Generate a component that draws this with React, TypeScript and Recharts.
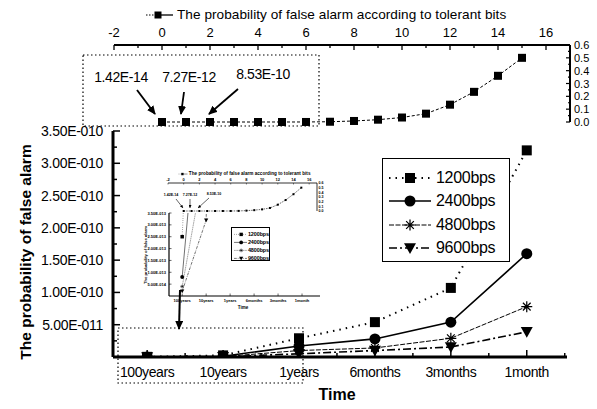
import React from "react";
import { ComposedChart, LineChart, Line, XAxis, YAxis, Legend } from "recharts";

// time span categories (x axis of the main chart)
const periods = ["100years", "10years", "1years", "6months", "3months", "1month"];

// probability of false alarm per bit rate
const bps1200 = [2.5e-13, 2.5e-12, 2.9e-11, 5.4e-11, 1.07e-10, 3.2e-10];
const bps2400 = [8e-14, 1.2e-12, 1.7e-11, 2.8e-11, 5.4e-11, 1.6e-10];
const bps4800 = [4e-14, 6e-13, 1.0e-11, 1.4e-11, 2.9e-11, 7.8e-11];
const bps9600 = [2e-14, 3.2e-13, 5e-12, 1.0e-11, 1.55e-11, 3.9e-11];
const seriesNames = ["1200bps", "2400bps", "4800bps", "9600bps"];

// probability of false alarm according to tolerant bits (top chart)
const tolerantBits = [0, 1, 2, 3, 4, 5, 6, 7, 8, 9, 10, 11, 12, 13, 14, 15];
const falseAlarmByBits = [
  1.42e-14, 7.27e-12, 8.53e-10, 3e-8, 8e-7, 1.5e-5, 2e-4, 2e-3, 8e-3, 0.018, 0.035, 0.065, 0.135,
  0.235, 0.36, 0.5,
];
const bitNotes = ["1.42E-14", "7.27E-12", "8.53E-10"];

const mainXTicks = [1, 1.5, 2, 2.5, 3, 3.5, 4, 4.5, 5, 5.5, 6, 6.5];
const mainYTicks = Array.from({ length: 14 }, (_, i) => (i + 1) * 0.25e-10);
const insetYTicks = Array.from({ length: 7 }, (_, i) => (i + 1) * 0.5e-13);
const topXTicks = Array.from({ length: 19 }, (_, i) => i - 2);
const topYTicks = Array.from({ length: 13 }, (_, i) => i * 0.05);

const seriesKeys = ["b1200", "b2400", "b4800", "b9600"];
const mainRows = periods.map((period, i) => ({
  x: i + 1,
  period,
  b1200: bps1200[i],
  b2400: bps2400[i],
  b4800: bps4800[i],
  b9600: bps9600[i],
}));
const bitRows = tolerantBits.map((bit, i) => ({ bit, p: falseAlarmByBits[i] }));

const FONT = '"Liberation Sans", Arial, sans-serif';

const seriesStyle: Record<string, { dash?: string; width: number; marker: string; size: number }> = {
  b1200: { dash: "1.5 5", width: 2, marker: "square", size: 10 },
  b2400: { width: 1.6, marker: "circle", size: 11 },
  b4800: { dash: "5 1.5", width: 1, marker: "star", size: 11 },
  b9600: { dash: "8 3 2 3", width: 1.6, marker: "tri", size: 12 },
};

const sciLabel = (v: number) => {
  const [m, e] = v.toExponential(2).split("e");
  const n = Number(e);
  return `${m}E${n < 0 ? "-" : "+"}${String(Math.abs(n)).padStart(3, "0")}`;
};

const drawMarker = (kind: string, cx: number, cy: number, s: number, key?: any) => {
  switch (kind) {
    case "square":
      return <rect key={key} x={cx - s / 2} y={cy - s / 2} width={s} height={s} fill="#000" />;
    case "circle":
      return <circle key={key} cx={cx} cy={cy} r={s / 2} fill="#000" />;
    case "star": {
      const d = s * 0.35;
      return (
        <path
          key={key}
          d={`M${cx - s / 2},${cy}H${cx + s / 2}M${cx},${cy - s / 2}V${cy + s / 2}M${cx - d},${cy - d}L${cx + d},${cy + d}M${cx - d},${cy + d}L${cx + d},${cy - d}`}
          stroke="#000"
          strokeWidth={Math.max(0.5, s / 9)}
          fill="none"
        />
      );
    }
    default:
      return (
        <path
          key={key}
          d={`M${cx - s / 2},${cy - s * 0.4}L${cx + s / 2},${cy - s * 0.4}L${cx},${cy + s * 0.5}Z`}
          fill="#000"
        />
      );
  }
};

const dotFor = (kind: string, size: number) => (props: any) => {
  const { cx, cy, index } = props;
  if (cx == null || cy == null) return <g key={index} />;
  return drawMarker(kind, cx, cy, size, index);
};

// ---------- ticks ----------
const MainXTick = (p: any) => {
  const { x, y, payload } = p;
  const v = payload.value;
  const major = Number.isInteger(v);
  return (
    <g>
      <line x1={x} x2={x} y1={y} y2={y - (major ? 7 : 4)} stroke="#000" strokeWidth={1.5} />
      {major && (
        <text x={x} y={y + 20} textAnchor="middle" fontSize={14} letterSpacing={-0.4} fontFamily={FONT}>
          {periods[v - 1]}
        </text>
      )}
    </g>
  );
};

const MainYTick = (p: any) => {
  const { x, y, payload } = p;
  const v = payload.value;
  const major = Math.round(v / 0.25e-10) % 2 === 0;
  return (
    <g>
      <line x1={x} x2={x + (major ? 7 : 4)} y1={y} y2={y} stroke="#000" strokeWidth={1.5} />
      {major && (
        <text x={x - 10} y={y + 5} textAnchor="end" fontSize={14} letterSpacing={-0.3} fontFamily={FONT}>
          {sciLabel(v)}
        </text>
      )}
    </g>
  );
};

const TopXTick = (p: any) => {
  const { x, y, payload } = p;
  const v = payload.value;
  const major = v % 2 === 0;
  return (
    <g>
      <line x1={x} x2={x} y1={y} y2={y + (major ? 5 : 3)} stroke="#000" strokeWidth={1.3} />
      {major && (
        <text x={x} y={y - 8} textAnchor="middle" fontSize={13} fontFamily={FONT}>
          {v}
        </text>
      )}
    </g>
  );
};

const TopYTick = (p: any) => {
  const { x, y, payload } = p;
  const i = Math.round(payload.value / 0.05);
  const major = i % 2 === 0;
  return (
    <g>
      <line x1={x - (major ? 4 : 2)} x2={x} y1={y} y2={y} stroke="#000" strokeWidth={1.2} />
      {major && (
        <text x={x + 4} y={y + 4} fontSize={11} fontFamily={FONT}>
          {(i * 0.05).toFixed(1)}
        </text>
      )}
    </g>
  );
};

// tiny copies for the inset
const MiniXTick = (p: any) => {
  const { x, y, payload } = p;
  const v = payload.value;
  const major = Number.isInteger(v);
  return (
    <g>
      <line x1={x} x2={x} y1={y} y2={y - (major ? 2.5 : 1.5)} stroke="#000" strokeWidth={0.6} />
      {major && (
        <text x={x} y={y + 6} textAnchor="middle" fontSize={4} fontWeight="bold" fontFamily={FONT}>
          {periods[v - 1]}
        </text>
      )}
    </g>
  );
};

const MiniYTick = (p: any) => {
  const { x, y, payload } = p;
  return (
    <g>
      <line x1={x} x2={x + 2.5} y1={y} y2={y} stroke="#000" strokeWidth={0.6} />
      <text x={x - 3} y={y + 1.5} textAnchor="end" fontSize={4} fontWeight="bold" fontFamily={FONT}>
        {sciLabel(payload.value)}
      </text>
    </g>
  );
};

const MiniTopXTick = (p: any) => {
  const { x, y, payload } = p;
  const v = payload.value;
  if (v % 2 !== 0) return <g />;
  return (
    <g>
      <line x1={x} x2={x} y1={y} y2={y + 1.5} stroke="#000" strokeWidth={0.5} />
      <text x={x} y={y - 2} textAnchor="middle" fontSize={4} fontWeight="bold" fontFamily={FONT}>
        {v}
      </text>
    </g>
  );
};

const MiniTopYTick = (p: any) => {
  const { x, y, payload } = p;
  const i = Math.round(payload.value / 0.05);
  if (i % 2 !== 0) return <g />;
  return (
    <text x={x + 1.5} y={y + 1.3} fontSize={3.6} fontWeight="bold" fontFamily={FONT}>
      {(i * 0.05).toFixed(1)}
    </text>
  );
};

// ---------- legends ----------
const SeriesLegend = ({ payload, scale }: any) => {
  const k = scale || 1;
  return (
    <div
      style={{
        width: "100%",
        height: "100%",
        boxSizing: "border-box",
        border: `${k < 1 ? 0.6 : 1}px solid #000`,
        background: "#fff",
        paddingTop: 7.5 * k,
        fontFamily: FONT,
      }}
    >
      {(payload || []).map((entry: any) => {
        const st = seriesStyle[entry.dataKey];
        return (
          <div key={entry.dataKey} style={{ display: "flex", alignItems: "center", height: 23.3 * k }}>
            <svg width={50 * k} height={20 * k} style={{ display: "block" }}>
              <line
                x1={6 * k}
                x2={48 * k}
                y1={10 * k}
                y2={10 * k}
                stroke="#000"
                strokeWidth={st.width * k}
                strokeDasharray={st.dash ? st.dash.split(" ").map((d) => Number(d) * k).join(" ") : undefined}
              />
              {drawMarker(st.marker, 27 * k, 10 * k, st.size * k)}
            </svg>
            <span
              style={{
                fontSize: 16 * k,
                letterSpacing: -0.3 * k,
                fontWeight: k < 1 ? "bold" : "normal",
                marginLeft: 3 * k,
                lineHeight: 1,
              }}
            >
              {entry.value}
            </span>
          </div>
        );
      })}
    </div>
  );
};

const BitsLegend = ({ scale }: any) => {
  const k = scale || 1;
  return (
    <div style={{ display: "flex", alignItems: "center", fontFamily: FONT, whiteSpace: "nowrap" }}>
      <svg width={30 * k} height={12 * k} style={{ display: "block" }}>
        <line x1={1 * k} x2={10 * k} y1={6 * k} y2={6 * k} stroke="#000" strokeWidth={k} strokeDasharray={`${1.5 * k} ${1.5 * k}`} />
        <line x1={16 * k} x2={28 * k} y1={6 * k} y2={6 * k} stroke="#000" strokeWidth={1.3 * k} />
        {drawMarker("square", 13 * k, 6 * k, 7 * k)}
      </svg>
      <span style={{ fontSize: 13.6 * k, letterSpacing: 0.05 * k, marginLeft: 2 * k, lineHeight: 1, fontWeight: k < 1 ? "bold" : "normal" }}>
        The probability of false alarm according to tolerant bits
      </span>
    </div>
  );
};

const seriesLines = (k: number) =>
  seriesKeys.map((key, i) => {
    const st = seriesStyle[key];
    return (
      <Line
        key={key}
        dataKey={key}
        name={seriesNames[i]}
        type="linear"
        stroke="#000"
        strokeWidth={st.width * k}
        strokeDasharray={st.dash ? st.dash.split(" ").map((d) => Number(d) * k).join(" ") : undefined}
        dot={dotFor(st.marker, st.size * k)}
        activeDot={false}
        isAnimationActive={false}
      />
    );
  });

const App: React.FC = () => {
  return (
    <div
      style={{
        position: "absolute",
        left: 0,
        top: 0,
        width: 597,
        height: 409,
        background: "#fff",
        overflow: "hidden",
        fontFamily: FONT,
      }}
    >
      {/* main chart: probability vs time */}
      <ComposedChart
        width={597}
        height={409}
        data={mainRows}
        margin={{ top: 131, right: 30, bottom: 0, left: 0 }}
        style={{ position: "absolute", left: 0, top: 0 }}
      >
        <XAxis
          dataKey="x"
          type="number"
          domain={[0.55, 6.53]}
          ticks={mainXTicks}
          interval={0}
          allowDataOverflow
          height={52}
          tickSize={0}
          tickMargin={0}
          axisLine={{ stroke: "#000", strokeWidth: 3 }}
          tickLine={false}
          tick={(p: any) => <MainXTick {...p} />}
        />
        <YAxis
          type="number"
          domain={[0, 3.5e-10]}
          ticks={mainYTicks}
          interval={0}
          allowDataOverflow
          width={113}
          tickSize={0}
          tickMargin={0}
          axisLine={{ stroke: "#000", strokeWidth: 3 }}
          tickLine={false}
          tick={(p: any) => <MainYTick {...p} />}
        />
        <Legend
          layout="horizontal"
          verticalAlign="middle"
          align="center"
          wrapperStyle={{ left: 382, top: 158, width: 128, height: 104 }}
          content={(props: any) => <SeriesLegend payload={props.payload} />}
        />
        {seriesLines(1)}
      </ComposedChart>

      {/* top chart: probability vs tolerant bits */}
      <LineChart
        width={597}
        height={130}
        data={bitRows}
        margin={{ top: 25, right: 0, bottom: 8, left: 114 }}
        style={{ position: "absolute", left: 0, top: 0 }}
      >
        <XAxis
          dataKey="bit"
          type="number"
          orientation="top"
          domain={[-2, 17]}
          ticks={topXTicks}
          interval={0}
          height={20}
          tickSize={0}
          tickMargin={0}
          axisLine={{ stroke: "#000", strokeWidth: 2 }}
          tickLine={false}
          tick={(p: any) => <TopXTick {...p} />}
        />
        <YAxis
          orientation="right"
          type="number"
          domain={[0, 0.6]}
          ticks={topYTicks}
          interval={0}
          width={27}
          tickSize={0}
          tickMargin={0}
          axisLine={{ stroke: "#000", strokeWidth: 2 }}
          tickLine={false}
          tick={(p: any) => <TopYTick {...p} />}
        />
        <Legend
          layout="horizontal"
          verticalAlign="middle"
          align="center"
          wrapperStyle={{ left: 145, top: 8, width: 400, height: 14 }}
          content={() => <BitsLegend />}
        />
        <Line
          dataKey="p"
          type="linear"
          stroke="#000"
          strokeWidth={1}
          strokeDasharray="3 2"
          dot={dotFor("square", 8)}
          activeDot={false}
          isAnimationActive={false}
        />
      </LineChart>

      {/* inset: small copy of the figure */}
      <LineChart
        width={190}
        height={50}
        data={bitRows}
        margin={{ top: 12, right: 3, bottom: 4, left: 28 }}
        style={{ position: "absolute", left: 140, top: 165 }}
      >
        <XAxis
          dataKey="bit"
          type="number"
          orientation="top"
          domain={[-2, 17]}
          ticks={topXTicks}
          interval={0}
          height={6}
          tickSize={0}
          tickMargin={0}
          axisLine={{ stroke: "#000", strokeWidth: 0.8 }}
          tickLine={false}
          tick={(p: any) => <MiniTopXTick {...p} />}
        />
        <YAxis
          orientation="right"
          type="number"
          domain={[0, 0.6]}
          ticks={topYTicks}
          interval={0}
          width={10}
          tickSize={0}
          tickMargin={0}
          axisLine={{ stroke: "#000", strokeWidth: 0.8 }}
          tickLine={false}
          tick={(p: any) => <MiniTopYTick {...p} />}
        />
        <Legend
          layout="horizontal"
          verticalAlign="middle"
          align="center"
          wrapperStyle={{ left: 38, top: 7, width: 140, height: 5 }}
          content={() => <BitsLegend scale={0.34} />}
        />
        <Line
          dataKey="p"
          type="linear"
          stroke="#000"
          strokeWidth={0.6}
          strokeDasharray="1.5 1"
          dot={dotFor("square", 2)}
          activeDot={false}
          isAnimationActive={false}
        />
      </LineChart>

      <ComposedChart
        width={190}
        height={105}
        data={mainRows}
        margin={{ top: 8, right: 10, bottom: 0, left: 0 }}
        style={{ position: "absolute", left: 140, top: 205 }}
      >
        <XAxis
          dataKey="x"
          type="number"
          domain={[0.45, 6.75]}
          ticks={[1, 2, 3, 4, 5, 6]}
          interval={0}
          allowDataOverflow
          height={14}
          tickSize={0}
          tickMargin={0}
          axisLine={{ stroke: "#000", strokeWidth: 1.2 }}
          tickLine={false}
          tick={(p: any) => <MiniXTick {...p} />}
        />
        <YAxis
          type="number"
          domain={[0, 3.5e-13]}
          ticks={insetYTicks}
          interval={0}
          allowDataOverflow
          width={29}
          tickSize={0}
          tickMargin={0}
          axisLine={{ stroke: "#000", strokeWidth: 1.2 }}
          tickLine={false}
          tick={(p: any) => <MiniYTick {...p} />}
        />
        <Legend
          layout="horizontal"
          verticalAlign="middle"
          align="center"
          wrapperStyle={{ left: 91, top: 22, width: 39, height: 34 }}
          content={(props: any) => <SeriesLegend payload={props.payload} scale={0.34} />}
        />
        {seriesLines(0.35)}
      </ComposedChart>

      {/* annotations */}
      <svg
        width={597}
        height={409}
        style={{ position: "absolute", left: 0, top: 0, pointerEvents: "none" }}
        fontFamily={FONT}
      >
        <defs>
          <marker id="ah" markerWidth="9" markerHeight="8" refX="8" refY="4" orient="auto" markerUnits="userSpaceOnUse">
            <path d="M0,0 L9,4 L0,8 Z" fill="#000" />
          </marker>
          <marker id="ahs" markerWidth="3" markerHeight="3" refX="3" refY="1.5" orient="auto" markerUnits="userSpaceOnUse">
            <path d="M0,0 L3,1.5 L0,3 Z" fill="#000" />
          </marker>
        </defs>

        {/* axis titles */}
        <text
          x={0}
          y={0}
          transform="translate(31,252) rotate(-90)"
          textAnchor="middle"
          fontSize={15.5}
          fontWeight="bold"
        >
          The probability of false alarm
        </text>
        <text x={337} y={400} textAnchor="middle" fontSize={16} fontWeight="bold">
          Time
        </text>

        {/* zoom boxes */}
        <rect x={83} y={55} width={236} height={71} fill="none" stroke="#000" strokeWidth={1.2} strokeDasharray="1.5 2.5" />
        <rect x={118} y={328} width={185} height={55} fill="none" stroke="#000" strokeWidth={1.2} strokeDasharray="1.5 2.5" />
        <line x1={180} y1={290} x2={179} y2={329} stroke="#000" strokeWidth={2} markerEnd="url(#ah)" />

        {/* values of the first tolerant-bit points */}
        <text x={121} y={82} textAnchor="middle" fontSize={14} letterSpacing={-0.4}>
          {bitNotes[0]}
        </text>
        <text x={189} y={82} textAnchor="middle" fontSize={14} letterSpacing={-0.4}>
          {bitNotes[1]}
        </text>
        <text x={263} y={79} textAnchor="middle" fontSize={14} letterSpacing={-0.4}>
          {bitNotes[2]}
        </text>
        <line x1={137} y1={90} x2={155} y2={114} stroke="#000" strokeWidth={1.8} markerEnd="url(#ah)" />
        <line x1={184} y1={92} x2={181} y2={114} stroke="#000" strokeWidth={1.8} markerEnd="url(#ah)" />
        <line x1={238} y1={89} x2={209} y2={114} stroke="#000" strokeWidth={1.8} markerEnd="url(#ah)" />

        {/* inset annotations */}
        <text x={171} y={196} textAnchor="middle" fontSize={3.6} fontWeight="bold">
          {bitNotes[0]}
        </text>
        <text x={190} y={196} textAnchor="middle" fontSize={3.6} fontWeight="bold">
          {bitNotes[1]}
        </text>
        <text x={214} y={195} textAnchor="middle" fontSize={3.6} fontWeight="bold">
          {bitNotes[2]}
        </text>
        <line x1={176} y1={199} x2={183} y2={208} stroke="#000" strokeWidth={0.6} markerEnd="url(#ahs)" />
        <line x1={190} y1={199} x2={190} y2={208} stroke="#000" strokeWidth={0.6} markerEnd="url(#ahs)" />
        <line x1={209} y1={198} x2={198} y2={208} stroke="#000" strokeWidth={0.6} markerEnd="url(#ahs)" />
        <text x={243} y={309} textAnchor="middle" fontSize={4.5} fontWeight="bold">
          Time
        </text>
        <text
          x={0}
          y={0}
          transform="translate(147,255) rotate(-90)"
          textAnchor="middle"
          fontSize={4.2}
          fontWeight="bold"
        >
          The probability of false alarm
        </text>
      </svg>
    </div>
  );
};

export default App;
